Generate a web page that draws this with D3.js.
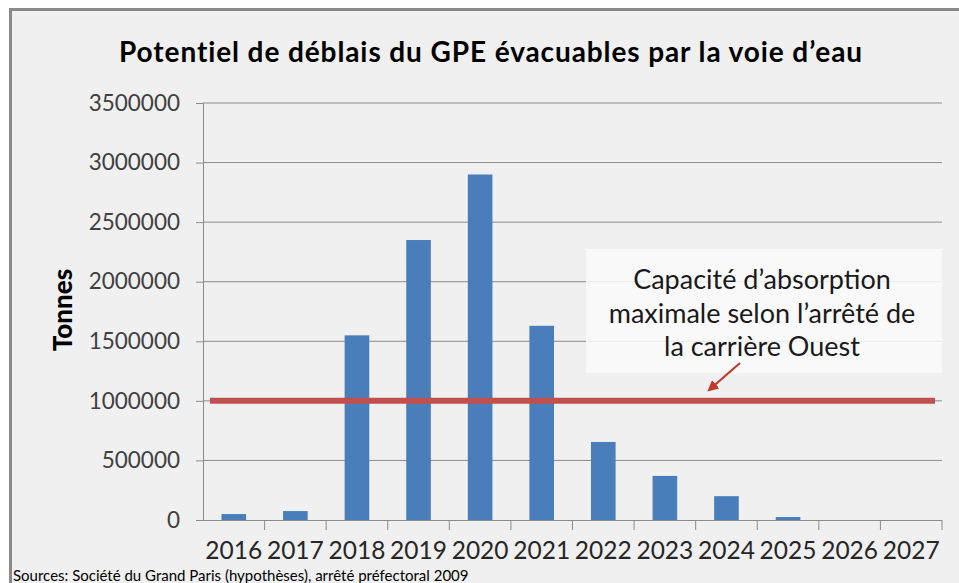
<!DOCTYPE html>
<html><head><meta charset="utf-8">
<script src="https://cdn.jsdelivr.net/npm/d3@7"></script>
<style>html,body{margin:0;padding:0;background:#fff;}svg{display:block;}</style>
</head><body>
<script>
const years = ["2016","2017","2018","2019","2020","2021","2022","2023","2024","2025","2026","2027"];
const tonnes = [50000, 75000, 1550000, 2350000, 2900000, 1630000, 655000, 370000, 200000, 25000, 0, 0];
const yTicks = [0, 500000, 1000000, 1500000, 2000000, 2500000, 3000000, 3500000];
const capacity = 1000000;
const titleText = "Potentiel de déblais du GPE évacuables par la voie d\u2019eau";
const yLabel = "Tonnes";
const noteLines = ["Capacité d\u2019absorption", "maximale selon l\u2019arrêté de", "la carrière Ouest"];
const sourceText = "Sources: Société du Grand Paris (hypothèses), arrêté préfectoral 2009";

const W = 959, H = 583;
const svg = d3.select("body").append("svg").attr("width", W).attr("height", H);
const font = "Lato, 'Open Sans', sans-serif";

// frame
svg.append("rect").attr("x", 10.5).attr("y", 9.5).attr("width", 960).attr("height", 600)
  .attr("fill", "#f0f0f0").attr("stroke", "#8a8a8a").attr("stroke-width", 3);

const m = {left: 203, right: 942, top: 103, bottom: 520};
const x = d3.scaleBand().domain(years).range([m.left, m.right]).paddingInner(0.6).paddingOuter(0.3);
const xb = d3.scaleBand().domain(years).range([m.left, m.right]);
const y = d3.scaleLinear().domain([0, 3500000]).range([m.bottom, m.top]);

// gridlines
svg.append("g").selectAll("line").data(yTicks.filter(d => d > 0)).join("line")
  .attr("x1", m.left).attr("x2", m.right).attr("y1", d => y(d)).attr("y2", d => y(d))
  .attr("stroke", "#8c8c8c").attr("stroke-width", 1);

// y axis
const yAxis = svg.append("g").attr("transform", `translate(${m.left},0)`)
  .call(d3.axisLeft(y).tickValues(yTicks).tickFormat(d3.format("d")).tickSize(7).tickPadding(16));
yAxis.select(".domain").attr("stroke", "#8c8c8c");
yAxis.selectAll(".tick line").attr("stroke", "#8c8c8c");
yAxis.selectAll("text").attr("font-family", font).attr("font-size", 22.5).attr("fill", "#404040");

// bars
svg.append("g").selectAll("rect").data(years).join("rect")
  .attr("x", d => x(d)).attr("width", x.bandwidth())
  .attr("y", (d, i) => y(tonnes[i])).attr("height", (d, i) => y(0) - y(tonnes[i]))
  .attr("fill", "#4a7ebb");

// x axis
const xAxis = svg.append("g").attr("transform", `translate(0,${m.bottom})`)
  .call(d3.axisBottom(xb).tickSize(0).tickPadding(21));
xAxis.select(".domain").attr("stroke", "#8c8c8c").attr("d", `M${m.left - 7},0.5H${m.right}`);
xAxis.selectAll("text").attr("font-family", font).attr("font-size", 24.5).attr("fill", "#262626").attr("dy", "0.75em");
svg.append("g").selectAll("line").data(years).join("line")
  .attr("x1", d => xb(d) + xb.bandwidth()).attr("x2", d => xb(d) + xb.bandwidth())
  .attr("y1", m.bottom).attr("y2", m.bottom + 10).attr("stroke", "#8c8c8c");

// capacity line
svg.append("line").attr("x1", m.left + 7).attr("x2", m.right - 7)
  .attr("y1", y(capacity)).attr("y2", y(capacity))
  .attr("stroke", "#c0504d").attr("stroke-width", 6);

// annotation box
svg.append("rect").attr("x", 586).attr("y", 249).attr("width", 356).attr("height", 124)
  .attr("fill", "#fafafa").attr("fill-opacity", 0.85);
svg.append("g").selectAll("text").data(noteLines).join("text")
  .attr("x", 762).attr("y", (d, i) => 289 + i * 33.5)
  .attr("text-anchor", "middle").attr("font-family", font).attr("font-size", 27)
  .attr("fill", "#1a1a1a").text(d => d);

// arrow
svg.append("defs").append("marker").attr("id", "ah").attr("viewBox", "0 0 10 10")
  .attr("refX", 8).attr("refY", 5).attr("markerWidth", 5).attr("markerHeight", 5)
  .attr("orient", "auto").append("path").attr("d", "M0,0L10,5L0,10z").attr("fill", "#c0392b");
svg.append("line").attr("x1", 740).attr("y1", 363).attr("x2", 709).attr("y2", 390)
  .attr("stroke", "#c0392b").attr("stroke-width", 2.2).attr("marker-end", "url(#ah)");

// title
svg.append("text").attr("x", 491).attr("y", 62).attr("text-anchor", "middle")
  .attr("font-family", font).attr("font-weight", "bold").attr("font-size", 28)
  .attr("letter-spacing", 0.9)
  .attr("fill", "#000").text(titleText);

// y label
svg.append("text").attr("transform", "translate(72,310) rotate(-90)").attr("text-anchor", "middle")
  .attr("font-family", font).attr("font-weight", "900").attr("font-size", 26)
  .attr("fill", "#000").text(yLabel);

// source
svg.append("text").attr("x", 13).attr("y", 581).attr("font-family", font).attr("font-size", 15)
  .attr("fill", "#000").text(sourceText);
</script>
</body></html>
